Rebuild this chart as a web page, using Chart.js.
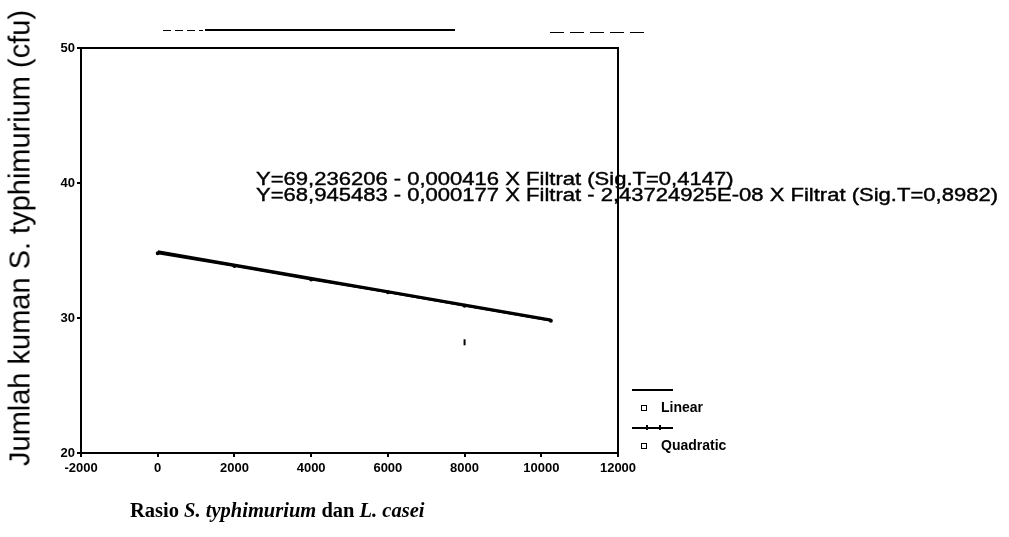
<!DOCTYPE html>
<html>
<head>
<meta charset="utf-8">
<script src="https://cdn.jsdelivr.net/npm/chart.js@4/dist/chart.umd.min.js"></script>
<style>
  html, body { margin: 0; padding: 0; background: #fff; }
  #wrap { position: relative; width: 1009px; height: 537px; overflow: hidden; }
  #myChart { position: absolute; left: 0; top: 0; }
  .txt { position: absolute; color: #000; white-space: nowrap; font-family: "Liberation Sans", Arial, sans-serif; }
  #ytitle { left: 20px; top: 238px; font-size: 29px; transform: translate(-50%, -50%) rotate(-90deg); }
  #xtitle { left: 130px; top: 499px; font-family: "Liberation Serif", "Times New Roman", serif; font-weight: bold; font-size: 20.5px; }
  .eq { left: 256px; font-size: 18px; transform-origin: 0 50%; -webkit-text-stroke: 0.4px #000; }
  .leg-line { position: absolute; height: 2px; background: #000; }
  .leg-box { position: absolute; width: 4px; height: 4px; border: 1.5px solid #000; }
  .leg-lbl { position: absolute; font-size: 14px; font-family: "Liberation Sans", Arial, sans-serif; }
  .rule { position: absolute; height: 2px; background: #000; }
</style>
</head>
<body>
<div id="wrap">
  <canvas id="myChart" width="1009" height="537"></canvas>
  <div class="rule" style="left:205px; top:29px; width:250px;"></div>
  <div class="rule" style="left:163px; top:30px; width:40px; height:1px; background:repeating-linear-gradient(90deg,#000 0 8px,transparent 8px 12px);"></div>
  <div class="rule" style="left:550px; top:32px; width:100px; height:1px; background:repeating-linear-gradient(90deg,#000 0 14px,transparent 14px 20px);"></div>
  <div id="ytitle" class="txt">Jumlah kuman S. typhimurium (cfu)</div>
  <div id="xtitle" class="txt">Rasio <i>S. typhimurium</i> dan <i>L. casei</i></div>
  <div id="eq1" class="txt eq" style="top:169px;"></div>
  <div id="eq2" class="txt eq" style="top:185px;"></div>
  <div id="legend"></div>
</div>
<script>
  // axis ticks
  var xTicks = [-2000, 0, 2000, 4000, 6000, 8000, 10000, 12000];
  var yTicks = [20, 30, 40, 50];

  // fitted curves over the filtrate ratio
  var linearX = [0, 10250];
  var linearY = [34.9, 29.85];
  var quadX = [0, 2000, 4000, 6000, 8000, 10250];
  var quadY = [34.8, 33.85, 32.85, 31.9, 30.9, 29.8];

  // stray observation
  var obsX = [8000];
  var obsY = [28.2];

  var seriesNames = ['Linear', 'Quadratic'];
  var equations = [
    'Y=69,236206 - 0,000416 X Filtrat (Sig.T=0,4147)',
    'Y=68,945483 - 0,000177 X Filtrat - 2,43724925E-08 X Filtrat (Sig.T=0,8982)'
  ];

  function toPoints(xs, ys) {
    return xs.map(function(x, i) { return { x: x, y: ys[i] }; });
  }

  // equation text, both lines stretched by the same amount so the long one spans 742px
  var eqEls = equations.map(function(s, i) {
    var el = document.getElementById('eq' + (i + 1));
    el.textContent = s;
    return el;
  });
  var stretch = 742 / eqEls[1].getBoundingClientRect().width;
  eqEls.forEach(function(el) { el.style.transform = 'scaleX(' + stretch + ')'; });

  // legend at the right of the frame
  var leg = document.getElementById('legend');
  var legTop = [390, 428];
  seriesNames.forEach(function(name, i) {
    var t = legTop[i];
    var ln = document.createElement('div');
    ln.className = 'leg-line';
    ln.style.left = '632px'; ln.style.top = (t - 1) + 'px'; ln.style.width = '41px';
    leg.appendChild(ln);
    if (i === 1) {
      [646, 659].forEach(function(px) {
        var d = document.createElement('div');
        d.style.cssText = 'position:absolute;width:2px;height:5px;background:#000;top:' + (t - 3) + 'px;left:' + px + 'px;';
        leg.appendChild(d);
      });
    }
    var bx = document.createElement('div');
    bx.className = 'leg-box';
    bx.style.left = '641px'; bx.style.top = (t + 15) + 'px';
    leg.appendChild(bx);
    var lb = document.createElement('div');
    lb.className = 'leg-lbl';
    lb.style.left = '661px'; lb.style.top = (t + 9) + 'px';
    lb.style.fontWeight = 'bold';
    lb.textContent = name;
    leg.appendChild(lb);
  });

  // black frame around the plot
  var framePlugin = {
    id: 'frame',
    afterDraw: function(chart) {
      var a = chart.chartArea, ctx = chart.ctx;
      ctx.save();
      ctx.strokeStyle = '#000';
      ctx.lineWidth = 2;
      ctx.strokeRect(a.left, a.top, a.right - a.left, a.bottom - a.top);
      ctx.restore();
    }
  };

  var tickFont = { family: '"Liberation Sans", Arial, sans-serif', size: 13, weight: 'bold' };

  var ctx = document.getElementById('myChart').getContext('2d');
  var mychart = new Chart(ctx, {
    type: 'scatter',
    data: {
      datasets: [
        {
          label: seriesNames[0],
          data: toPoints(linearX, linearY),
          showLine: true,
          borderColor: '#000',
          borderWidth: 3,
          pointRadius: 0
        },
        {
          label: seriesNames[1],
          data: toPoints(quadX, quadY),
          showLine: true,
          borderColor: '#000',
          backgroundColor: '#000',
          borderWidth: 2,
          pointRadius: 1
        },
        {
          label: 'Observed',
          data: toPoints(obsX, obsY),
          pointStyle: 'line',
          rotation: 90,
          pointRadius: 3,
          borderColor: '#000',
          borderWidth: 2
        }
      ]
    },
    options: {
      responsive: false,
      animation: false,
      layout: { padding: { top: 48, right: 391, left: 0, bottom: 0 } },
      plugins: { legend: { display: false }, tooltip: { enabled: false } },
      scales: {
        x: {
          type: 'linear',
          min: -2000,
          max: 12000,
          afterBuildTicks: function(s) { s.ticks = xTicks.map(function(v) { return { value: v }; }); },
          afterFit: function(s) { s.height = 84; },
          ticks: { color: '#000', font: tickFont, padding: 4, maxRotation: 0,
                   callback: function(v) { return String(v); } },
          grid: { drawOnChartArea: false, tickLength: 4, color: '#000', lineWidth: 2 },
          border: { color: '#000', width: 2 }
        },
        y: {
          min: 20,
          max: 50,
          afterBuildTicks: function(s) { s.ticks = yTicks.map(function(v) { return { value: v }; }); },
          afterFit: function(s) { s.width = 81; },
          ticks: { color: '#000', font: tickFont, padding: 2 },
          grid: { drawOnChartArea: false, tickLength: 4, color: '#000', lineWidth: 2 },
          border: { color: '#000', width: 2 }
        }
      }
    },
    plugins: [framePlugin]
  });
</script>
</body>
</html>
